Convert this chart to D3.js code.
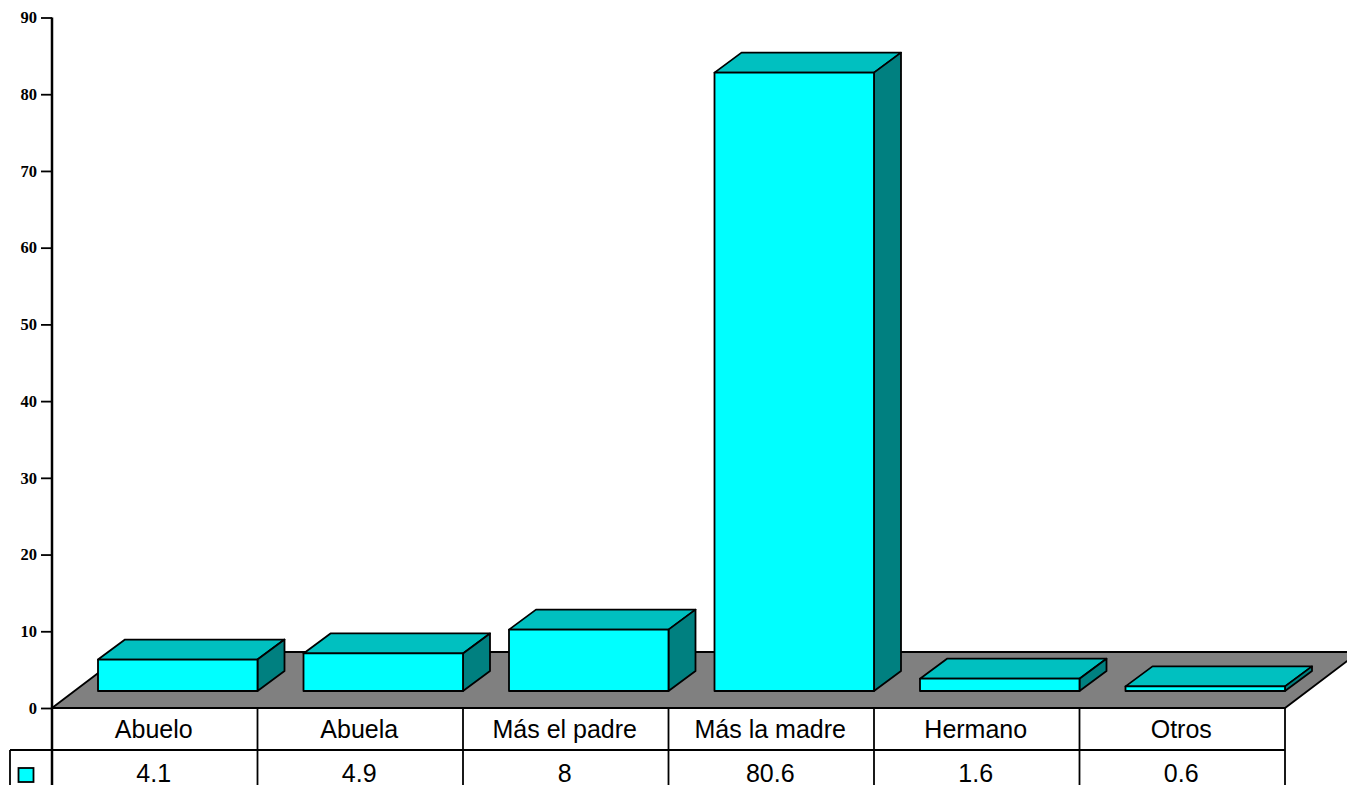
<!DOCTYPE html>
<head>
  <meta charset="utf-8">
  <title>Abuelo chart</title>
  <style>
    html, body { margin: 0; padding: 0; background: #fff; overflow: hidden; }
    svg { display: block; }
    .axis text { font-family: "Liberation Serif", serif; font-weight: bold; font-size: 16.5px; fill: #000; }
    .cell { font-family: "Liberation Sans", sans-serif; font-size: 25px; fill: #000; text-anchor: middle; }
  </style>
</head>
<body>
<script src="https://d3js.org/d3.v7.min.js"></script>
<script>
// Values
var categories = ["Abuelo", "Abuela", "Más el padre", "Más la madre", "Hermano", "Otros"];
var values = [4.1, 4.9, 8, 80.6, 1.6, 0.6];
var valueLabels = ["4.1", "4.9", "8", "80.6", "1.6", "0.6"];
var yTicks = [0, 10, 20, 30, 40, 50, 60, 70, 80, 90];

var width = 1347, height = 785;

var svg = d3.select("body").append("svg")
    .attr("width", width)
    .attr("height", height);

var line = "#000";
var strokeW = 1.8;
var plotLeft = 52, plotRight = 1285, floorFront = 708, headerBottom = 750;

var y = d3.scaleLinear().domain([0, 90]).range([floorFront, 17.5]);
var x = d3.scaleBand().domain(categories).range([plotLeft, plotRight]);

// 3d offsets of the floor and of each bar
var floorDepth = {x: 74, y: 56};
var barDepth = {x: 27, y: 20};
var barLeft = 46, barBaseLift = 17;
var barWidth = x.bandwidth() - barLeft;

function poly(points) { return d3.line()(points) + "Z"; }

// Floor
svg.append("path")
    .attr("d", poly([
      [plotLeft, floorFront],
      [plotLeft + floorDepth.x, floorFront - floorDepth.y],
      [plotRight + floorDepth.x, floorFront - floorDepth.y],
      [plotRight, floorFront]
    ]))
    .attr("fill", "#808080")
    .attr("stroke", line)
    .attr("stroke-width", strokeW);

// Bars
var bars = svg.selectAll(".bar")
    .data(categories.map(function(c, i) { return {name: c, value: values[i]}; }))
  .enter().append("g")
    .attr("class", "bar")
    .attr("stroke", line)
    .attr("stroke-width", strokeW)
    .attr("stroke-linejoin", "round");

function barBox(d) {
  var x0 = x(d.name) + barLeft;
  var x1 = x0 + barWidth;
  var base = y(0) - barBaseLift;
  var top = base - (y(0) - y(d.value));
  return {x0: x0, x1: x1, base: base, top: top};
}

bars.append("path")
    .attr("fill", "#00c0c0")
    .attr("d", function(d) {
      var b = barBox(d);
      return poly([[b.x0, b.top], [b.x0 + barDepth.x, b.top - barDepth.y],
                   [b.x1 + barDepth.x, b.top - barDepth.y], [b.x1, b.top]]);
    });

bars.append("path")
    .attr("fill", "#008080")
    .attr("d", function(d) {
      var b = barBox(d);
      return poly([[b.x1, b.top], [b.x1 + barDepth.x, b.top - barDepth.y],
                   [b.x1 + barDepth.x, b.base - barDepth.y], [b.x1, b.base]]);
    });

bars.append("path")
    .attr("fill", "#00ffff")
    .attr("d", function(d) {
      var b = barBox(d);
      return poly([[b.x0, b.top], [b.x1, b.top], [b.x1, b.base], [b.x0, b.base]]);
    });

// Data table under the chart
var table = svg.append("g").attr("stroke", line).attr("stroke-width", strokeW);

table.append("line")
    .attr("x1", plotLeft).attr("x2", plotRight)
    .attr("y1", floorFront).attr("y2", floorFront);
table.append("line")
    .attr("x1", 10).attr("x2", plotRight)
    .attr("y1", headerBottom).attr("y2", headerBottom);
table.append("line")
    .attr("x1", 10).attr("x2", 10)
    .attr("y1", headerBottom).attr("y2", height);
table.selectAll(".col")
    .data(categories)
  .enter().append("line")
    .attr("class", "col")
    .attr("x1", function(d) { return x(d) + x.bandwidth(); })
    .attr("x2", function(d) { return x(d) + x.bandwidth(); })
    .attr("y1", floorFront).attr("y2", height);

svg.selectAll(".head")
    .data(categories)
  .enter().append("text")
    .attr("class", "cell head")
    .attr("x", function(d) { return x(d) + x.bandwidth() / 2 - 1; })
    .attr("y", 738)
    .text(function(d) { return d; });

svg.selectAll(".val")
    .data(categories)
  .enter().append("text")
    .attr("class", "cell val")
    .attr("x", function(d) { return x(d) + x.bandwidth() / 2 - 1; })
    .attr("y", 782)
    .text(function(d, i) { return valueLabels[i]; });

// Legend key
svg.append("rect")
    .attr("x", 18.5).attr("y", 768)
    .attr("width", 15).attr("height", 14)
    .attr("fill", "#00ffff")
    .attr("stroke", line)
    .attr("stroke-width", strokeW);

// Value axis, runs down past the floor to the page bottom
var axis = svg.append("g")
    .attr("class", "axis")
    .attr("transform", "translate(" + plotLeft + ",0)")
    .call(d3.axisLeft(y).tickValues(yTicks).tickSize(11).tickPadding(4).tickFormat(d3.format("d")));

axis.select(".domain").remove();
axis.selectAll(".tick line").attr("stroke", line).attr("stroke-width", strokeW);

svg.append("line")
    .attr("x1", plotLeft).attr("x2", plotLeft)
    .attr("y1", y(90)).attr("y2", height)
    .attr("stroke", line)
    .attr("stroke-width", 2.5);
</script>
</body>
